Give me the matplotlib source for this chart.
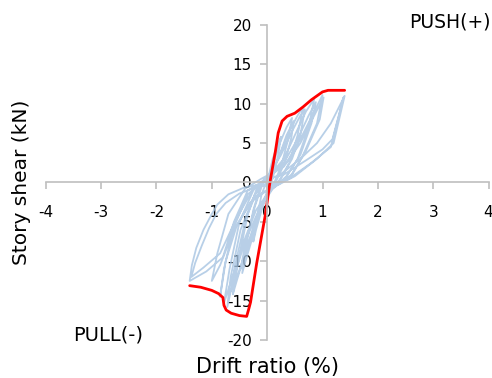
import matplotlib
matplotlib.use("Agg")
import matplotlib.pyplot as plt

plt.rcParams['font.family'] = ['DejaVu Sans']
plt.rcParams['axes.unicode_minus'] = False

# envelope (backbone) curve, drift % vs shear kN
env_x = [-1.40, -1.20, -1.00, -0.88, -0.80, -0.78, -0.74, -0.65, -0.50, -0.37,
         -0.33, -0.30, -0.19, -0.03, 0.05, 0.15, 0.20, 0.27, 0.36, 0.50,
         0.65, 0.80, 0.92, 1.00, 1.10, 1.25, 1.40]
env_y = [-13.1, -13.3, -13.7, -14.1, -14.6, -15.6, -16.2, -16.6, -16.9, -17.0,
         -16.0, -15.2, -10.3, -4.0, 0.0, 4.0, 6.3, 7.8, 8.4, 8.8,
         9.6, 10.5, 11.1, 11.5, 11.7, 11.7, 11.7]

# cyclic test record (hysteresis loops)
hyst_x = [0.00, 0.10, 0.20, 0.25, 0.20, 0.10, 0.00, -0.10, -0.20, -0.25, -0.20, -0.10, 0.00,
          0.10, 0.20, 0.35, 0.45, 0.38, 0.25, 0.10, -0.05, -0.20, -0.35, -0.45, -0.38, -0.25, -0.10, 0.05,
          0.20, 0.35, 0.48, 0.44, 0.32, 0.15, 0.00, -0.20, -0.38, -0.48, -0.40, -0.22, -0.05, 0.08,
          0.20, 0.40, 0.55, 0.65, 0.55, 0.40, 0.20, 0.00, -0.20, -0.40, -0.55, -0.62, -0.52, -0.35, -0.15, 0.05,
          0.25, 0.45, 0.60, 0.68, 0.60, 0.45, 0.25, 0.05, -0.15, -0.35, -0.52, -0.65, -0.58, -0.40, -0.20, 0.00,
          0.30, 0.50, 0.70, 0.85, 0.75, 0.55, 0.30, 0.05, -0.20, -0.45, -0.65, -0.78, -0.68, -0.50, -0.25, 0.00,
          0.30, 0.55, 0.75, 0.88, 0.80, 0.60, 0.35, 0.10, -0.15, -0.40, -0.60, -0.72, -0.66, -0.48, -0.22, 0.00,
          0.35, 0.60, 0.85, 1.00, 0.90, 0.65, 0.40, 0.10, -0.30, -0.60, -0.85, -1.00, -0.90, -0.70, -0.40, -0.10,
          0.30, 0.60, 0.85, 1.02, 0.95, 0.70, 0.45, 0.15, -0.25, -0.55, -0.75, -0.85, -0.78, -0.62, -0.35, -0.05,
          0.20, 0.60, 0.90, 1.15, 1.40, 1.30, 1.20, 0.90, 0.50, 0.20, -0.15, -0.40, -0.70, -0.90, -1.00, -1.15, -1.28, -1.36, -1.40,
          -1.10, -0.80, -0.60, -0.35, 0.00,
          0.30, 0.70, 1.00, 1.18, 1.38, 1.28, 1.15, 0.80, 0.40, 0.10, -0.20, -0.50, -0.75, -0.92, -1.05, -1.18, -1.30, -1.37,
          -1.15, -0.85, -0.55, -0.25, 0.05]
hyst_y = [0.0, 3.0, 5.0, 5.8, 3.5, 0.5, -1.0, -3.5, -6.0, -7.5, -5.0, -1.5, 0.3,
          2.0, 4.5, 7.0, 8.2, 5.5, 2.0, -0.5, -2.0, -5.5, -9.0, -11.5, -8.0, -3.5, 0.0, 1.0,
          3.0, 6.0, 7.8, 5.8, 2.5, 0.0, -1.5, -5.0, -9.0, -11.0, -8.0, -3.0, 0.5, 1.0,
          3.0, 6.5, 8.5, 9.6, 6.0, 2.5, 0.0, -1.5, -4.5, -9.0, -12.5, -14.2, -10.0, -4.0, -0.5, 1.2,
          3.5, 6.5, 8.5, 9.3, 6.0, 3.0, 0.5, -1.0, -4.0, -8.0, -11.5, -13.8, -10.5, -5.0, -1.0, 0.5,
          3.0, 6.0, 9.0, 10.6, 7.0, 3.0, 0.2, -1.0, -3.5, -8.0, -12.5, -15.3, -11.0, -5.0, -1.0, 0.8,
          2.5, 5.5, 8.5, 10.2, 7.5, 3.5, 0.8, -0.8, -3.5, -7.5, -12.0, -15.8, -12.0, -6.0, -1.5, 0.5,
          2.5, 5.5, 9.0, 11.1, 7.5, 3.5, 0.5, -0.5, -2.5, -6.0, -10.5, -12.5, -9.0, -4.0, -0.8, 0.5,
          2.0, 5.0, 8.5, 10.8, 8.0, 4.0, 1.0, -0.3, -2.0, -5.5, -10.0, -14.5, -11.0, -6.0, -1.5, 0.3,
          0.8, 3.0, 5.0, 7.5, 11.0, 8.0, 5.0, 3.0, 0.8, -0.3, -0.3, -0.6, -1.5, -2.8, -4.0, -6.0, -8.3, -10.5, -12.5,
          -11.3, -9.5, -5.0, -1.0, 0.5,
          1.0, 2.8, 4.2, 5.5, 10.8, 8.0, 4.5, 2.5, 0.5, -0.2, -0.6, -1.4, -2.6, -4.0, -5.8, -8.0, -10.2, -12.0,
          -10.8, -9.0, -4.5, -0.8, 0.6]

x_ticks = [-4, -3, -2, -1, 0, 1, 2, 3, 4]
y_ticks = [-20, -15, -10, -5, 0, 5, 10, 15, 20]

fig = plt.figure(figsize=(4.92, 3.78), dpi=100)
ax = fig.add_axes([0.093, 0.1005, 0.9, 0.8335])

ax.plot(hyst_x, hyst_y, color='#a6c4e2', lw=1.3, alpha=0.8)
ax.plot(env_x, env_y, color='#ff0000', lw=2.0, solid_capstyle='round')

ax.set_xlim(-4, 4)
ax.set_ylim(-20, 20)
ax.set_xticks(x_ticks)
ax.set_yticks(y_ticks)

for s in ['top', 'right']:
    ax.spines[s].set_visible(False)
ax.spines['left'].set_position(('data', 0))
ax.spines['bottom'].set_position(('data', 0))
for s in ['left', 'bottom']:
    ax.spines[s].set_color('#bfbfbf')
    ax.spines[s].set_linewidth(1.2)
ax.tick_params(axis='both', colors='#bfbfbf', length=5, width=1.2, labelcolor='black', labelsize=11)
ax.tick_params(axis='x', pad=11)
ax.tick_params(axis='y', pad=6)

fig.text(268 / 492, 1 - 367 / 378, 'Drift ratio (%)', ha='center', va='center', fontsize=15)
fig.text(22 / 492, 1 - 182 / 378, 'Story shear (kN)', ha='center', va='center', fontsize=14.5, rotation=90)
fig.text(450 / 492, 1 - 22 / 378, 'PUSH(+)', ha='center', va='center', fontsize=13.5)
fig.text(108 / 492, 1 - 335 / 378, 'PULL(-)', ha='center', va='center', fontsize=14)

fig.savefig('out.png', dpi=100)
